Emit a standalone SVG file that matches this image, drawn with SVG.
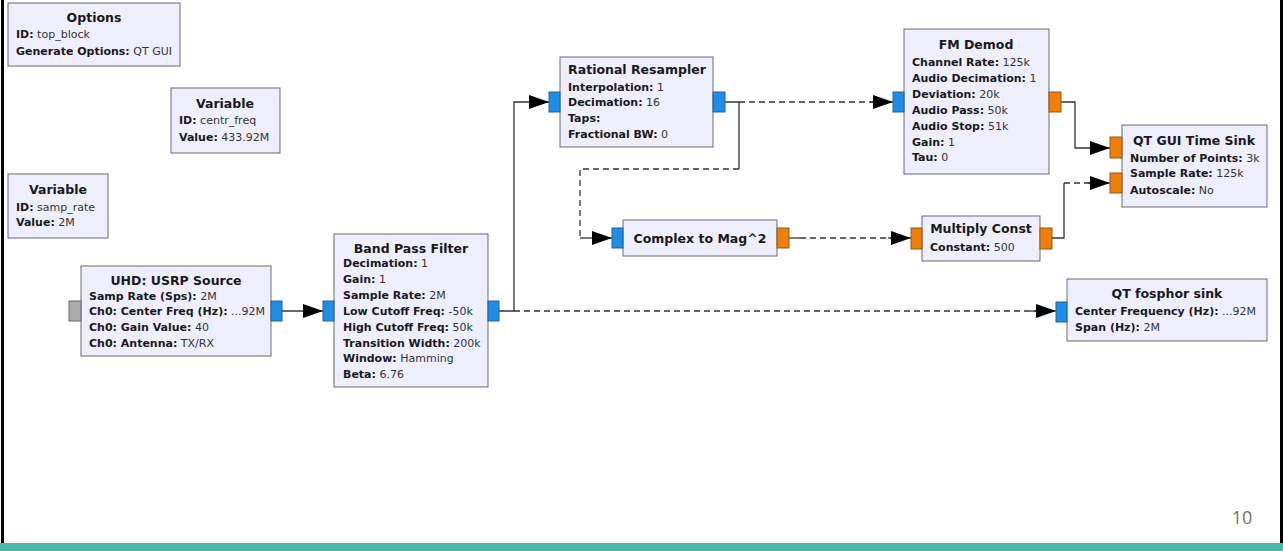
<svg xmlns="http://www.w3.org/2000/svg" width="1283" height="551" viewBox="0 0 1283 551">
<style>
.box{fill:#efeefd;stroke:#6b6b6b;stroke-width:1}
.pb{fill:#1f8ee8;stroke:#2f5f8f;stroke-width:1}
.po{fill:#f07f0a;stroke:#8a5a20;stroke-width:1}
.pg{fill:#ababab;stroke:#6a6a6a;stroke-width:1}
.t{font-family:"DejaVu Sans",sans-serif;font-size:12.5px;font-weight:bold;text-anchor:middle;fill:#1a1a1a}
.l{font-family:"DejaVu Sans",sans-serif;font-size:11px;fill:#333}
.b{font-weight:bold;fill:#1a1a1a}
.c{fill:none;stroke:#333;stroke-width:1.3}
.d{stroke-dasharray:6 4}
</style>
<defs>
<marker id="ah" viewBox="0 0 20 14" refX="20" refY="7" markerWidth="20" markerHeight="14" markerUnits="userSpaceOnUse" orient="auto">
<path d="M0,0 L20,7 L0,14 Z" fill="#000"/>
</marker>
</defs>
<rect x="0" y="0" width="1283" height="551" fill="#fff"/>
<rect x="1" y="0" width="3" height="543" fill="#000"/>
<rect x="1280" y="0" width="3" height="543" fill="#000"/>
<rect x="0" y="543" width="1283" height="8" fill="#4db6ac"/>
<text x="1242" y="524" font-family="Open Sans, sans-serif" font-size="18" fill="#7a7062" text-anchor="middle">10</text>

<g id="connectors">
<path class="c" d="M282,311 H323" marker-end="url(#ah)"/>
<path class="c" d="M499,311 H514 V102 H549" marker-end="url(#ah)"/>
<path class="c d" d="M514,311 H1040"/>
<path class="c" d="M1030,311 H1056" marker-end="url(#ah)"/>
<path class="c" d="M725,102 H739 V169"/>
<path class="c d" d="M739,102 H878"/>
<path class="c" d="M870,102 H893" marker-end="url(#ah)"/>
<path class="c d" d="M739,169 H580 V238"/>
<path class="c" d="M580,238 H612" marker-end="url(#ah)"/>
<path class="c" d="M789,238 H800"/>
<path class="c d" d="M800,238 H895"/>
<path class="c" d="M888,238 H911" marker-end="url(#ah)"/>
<path class="c" d="M1061,102 H1075 V148 H1110" marker-end="url(#ah)"/>
<path class="c" d="M1052,238 H1064 V183"/>
<path class="c d" d="M1064,183 H1094"/>
<path class="c" d="M1088,183 H1110" marker-end="url(#ah)"/>
</g>

<g id="options">
<rect class="box" x="8" y="3" width="172" height="63"/>
<text class="t" x="94" y="22">Options</text>
<text class="l" x="16" y="38"><tspan class="b">ID:</tspan> top_block</text>
<text class="l" x="16" y="55"><tspan class="b">Generate Options:</tspan> QT GUI</text>
</g>

<g id="var_centr_freq">
<rect class="box" x="171" y="88" width="109" height="65"/>
<text class="t" x="225" y="108">Variable</text>
<text class="l" x="179" y="124"><tspan class="b">ID:</tspan> centr_freq</text>
<text class="l" x="179" y="141"><tspan class="b">Value:</tspan> 433.92M</text>
</g>

<g id="var_samp_rate">
<rect class="box" x="8" y="174" width="100" height="64"/>
<text class="t" x="58" y="194">Variable</text>
<text class="l" x="16" y="211"><tspan class="b">ID:</tspan> samp_rate</text>
<text class="l" x="16" y="226"><tspan class="b">Value:</tspan> 2M</text>
</g>

<g id="usrp_source">
<rect class="box" x="81" y="266" width="190" height="90"/>
<rect class="pg" x="69" y="301" width="12" height="20"/>
<rect class="pb" x="271" y="301" width="11" height="20"/>
<text class="t" x="176" y="285">UHD: USRP Source</text>
<text class="l" x="89" y="300"><tspan class="b">Samp Rate (Sps):</tspan> 2M</text>
<text class="l" x="89" y="315"><tspan class="b">Ch0: Center Freq (Hz):</tspan> ...92M</text>
<text class="l" x="89" y="331"><tspan class="b">Ch0: Gain Value:</tspan> 40</text>
<text class="l" x="89" y="347"><tspan class="b">Ch0: Antenna:</tspan> TX/RX</text>
</g>

<g id="band_pass_filter">
<rect class="box" x="334" y="234" width="154" height="153"/>
<rect class="pb" x="323" y="301" width="11" height="20"/>
<rect class="pb" x="488" y="301" width="11" height="20"/>
<text class="t" x="411" y="253">Band Pass Filter</text>
<text class="l" x="343" y="267"><tspan class="b">Decimation:</tspan> 1</text>
<text class="l" x="343" y="283"><tspan class="b">Gain:</tspan> 1</text>
<text class="l" x="343" y="299"><tspan class="b">Sample Rate:</tspan> 2M</text>
<text class="l" x="343" y="315"><tspan class="b">Low Cutoff Freq:</tspan> -50k</text>
<text class="l" x="343" y="331"><tspan class="b">High Cutoff Freq:</tspan> 50k</text>
<text class="l" x="343" y="347"><tspan class="b">Transition Width:</tspan> 200k</text>
<text class="l" x="343" y="362"><tspan class="b">Window:</tspan> Hamming</text>
<text class="l" x="343" y="378"><tspan class="b">Beta:</tspan> 6.76</text>
</g>

<g id="rational_resampler">
<rect class="box" x="560" y="57" width="153" height="90"/>
<rect class="pb" x="549" y="92" width="11" height="20"/>
<rect class="pb" x="713" y="92" width="12" height="20"/>
<text class="t" x="637" y="74">Rational Resampler</text>
<text class="l" x="568" y="91"><tspan class="b">Interpolation:</tspan> 1</text>
<text class="l" x="568" y="106"><tspan class="b">Decimation:</tspan> 16</text>
<text class="l" x="568" y="122"><tspan class="b">Taps:</tspan></text>
<text class="l" x="568" y="138"><tspan class="b">Fractional BW:</tspan> 0</text>
</g>

<g id="complex_to_mag2">
<rect class="box" x="623" y="220" width="154" height="36"/>
<rect class="pb" x="612" y="228" width="11" height="20"/>
<rect class="po" x="777" y="228" width="12" height="20"/>
<text class="t" x="700" y="243">Complex to Mag^2</text>
</g>

<g id="fm_demod">
<rect class="box" x="904" y="29" width="145" height="145"/>
<rect class="pb" x="893" y="92" width="11" height="20"/>
<rect class="po" x="1049" y="92" width="12" height="20"/>
<text class="t" x="976" y="49">FM Demod</text>
<text class="l" x="912" y="66"><tspan class="b">Channel Rate:</tspan> 125k</text>
<text class="l" x="912" y="82"><tspan class="b">Audio Decimation:</tspan> 1</text>
<text class="l" x="912" y="98"><tspan class="b">Deviation:</tspan> 20k</text>
<text class="l" x="912" y="114"><tspan class="b">Audio Pass:</tspan> 50k</text>
<text class="l" x="912" y="130"><tspan class="b">Audio Stop:</tspan> 51k</text>
<text class="l" x="912" y="146"><tspan class="b">Gain:</tspan> 1</text>
<text class="l" x="912" y="161"><tspan class="b">Tau:</tspan> 0</text>
</g>

<g id="multiply_const">
<rect class="box" x="922" y="216" width="118" height="45"/>
<rect class="po" x="911" y="228" width="11" height="21"/>
<rect class="po" x="1040" y="228" width="12" height="21"/>
<text class="t" x="981" y="233">Multiply Const</text>
<text class="l" x="930" y="251"><tspan class="b">Constant:</tspan> 500</text>
</g>

<g id="qt_gui_time_sink">
<rect class="box" x="1122" y="125" width="145" height="82"/>
<rect class="po" x="1110" y="137" width="12" height="21"/>
<rect class="po" x="1110" y="173" width="12" height="20"/>
<text class="t" x="1194" y="145">QT GUI Time Sink</text>
<text class="l" x="1130" y="162"><tspan class="b">Number of Points:</tspan> 3k</text>
<text class="l" x="1130" y="177"><tspan class="b">Sample Rate:</tspan> 125k</text>
<text class="l" x="1130" y="194"><tspan class="b">Autoscale:</tspan> No</text>
</g>

<g id="qt_fosphor_sink">
<rect class="box" x="1067" y="279" width="200" height="62"/>
<rect class="pb" x="1056" y="302" width="11" height="20"/>
<text class="t" x="1167" y="298">QT fosphor sink</text>
<text class="l" x="1075" y="315"><tspan class="b">Center Frequency (Hz):</tspan> ...92M</text>
<text class="l" x="1075" y="331"><tspan class="b">Span (Hz):</tspan> 2M</text>
</g>
</svg>
